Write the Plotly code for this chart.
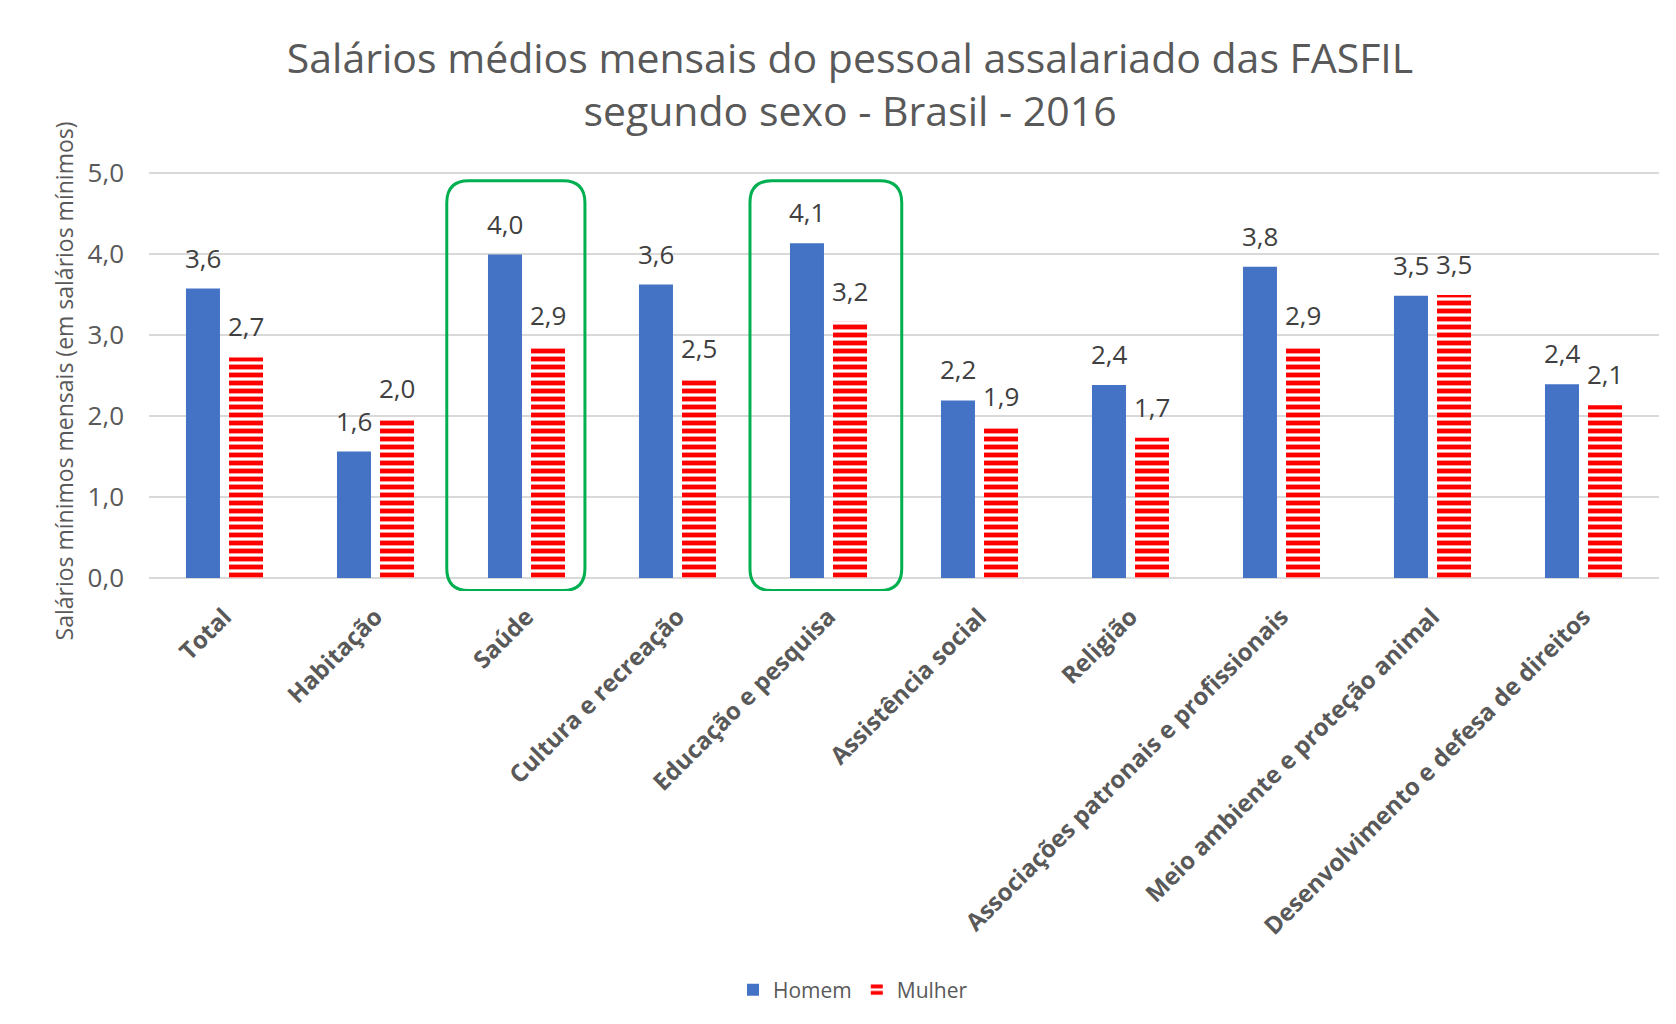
import plotly.graph_objects as go

# ---------------- data ----------------
categorias = [
    "Total", "Habitação", "Saúde", "Cultura e recreação", "Educação e pesquisa",
    "Assistência social", "Religião", "Associações patronais e profissionais",
    "Meio ambiente e proteção animal", "Desenvolvimento e defesa de direitos",
]
homem = [3.57, 1.56, 3.99, 3.62, 4.13, 2.19, 2.38, 3.84, 3.48, 2.39]
mulher = [2.72, 1.96, 2.86, 2.46, 3.16, 1.86, 1.73, 2.86, 3.49, 2.13]
y_ticks = [0, 1, 2, 3, 4, 5]
y_ticklabels = ["0,0", "1,0", "2,0", "3,0", "4,0", "5,0"]
destaques = ["Saúde", "Educação e pesquisa"]

titulo = "Salários médios mensais do pessoal assalariado das FASFIL<br>segundo sexo - Brasil - 2016"
titulo_y = "Salários mínimos mensais (em salários mínimos)"

# ---------------- styles ----------------
AZUL = "#4472C4"
VERMELHO = "#FF0000"
VERDE = "#00B050"
CINZA_TXT = "#595959"
CINZA_LBL = "#404040"
GRADE = "#D9D9D9"
FONTE = "Open Sans"

W, H = 1668, 1016          # page body has an 8px margin
L, R, T, B = 141, 17, 163, 433
Y_RANGE = [-0.16, 5.02]
pw, ph = W - L - R, H - T - B
BAR_OFFSET = 21.5          # px from category centre to each bar centre

fig = go.Figure()

fig.add_trace(go.Bar(
    x=categorias, y=homem, name="Homem",
    marker=dict(color=AZUL, line=dict(width=0)),
))
fig.add_trace(go.Bar(
    x=categorias, y=mulher, name="Mulher",
    marker=dict(
        color=VERMELHO, line=dict(width=0),
        pattern=dict(shape="-", fillmode="replace", fgcolor=VERMELHO,
                     bgcolor="white", size=8, solidity=0.6),
    ),
))

# value labels above bars
for serie, sh in ((homem, -BAR_OFFSET), (mulher, BAR_OFFSET)):
    for cat, v in zip(categorias, serie):
        fig.add_annotation(
            x=cat, y=v, xref="x", yref="y", text=f"{v:.1f}".replace(".", ","),
            showarrow=False, xanchor="center", yanchor="bottom",
            xshift=sh, yshift=11,
            font=dict(family=FONTE, size=26, color=CINZA_LBL),
        )

# rounded highlight boxes (data coordinates)
px_x = pw / len(categorias)
px_y = ph / (Y_RANGE[1] - Y_RANGE[0])
rad = 22
rx, ry = rad / px_x, rad / px_y
pads = {"Saúde": (-0.528, 0.387), "Educação e pesquisa": (-0.52, 0.485)}
for cat in destaques:
    i = categorias.index(cat)
    x0, x1 = i + pads[cat][0], i + pads[cat][1]
    y0, y1 = -0.155, 4.9
    path = (f"M {x0+rx},{y0} L {x1-rx},{y0} Q {x1},{y0} {x1},{y0+ry} "
            f"L {x1},{y1-ry} Q {x1},{y1} {x1-rx},{y1} L {x0+rx},{y1} "
            f"Q {x0},{y1} {x0},{y1-ry} L {x0},{y0+ry} Q {x0},{y0} {x0+rx},{y0} Z")
    fig.add_shape(type="path", path=path, xref="x", yref="y",
                  line=dict(color=VERDE, width=3), fillcolor="rgba(0,0,0,0)", layer="above")

fig.update_layout(
    width=W, height=H,
    margin=dict(l=L, r=R, t=T, b=B, autoexpand=False),
    paper_bgcolor="white", plot_bgcolor="white",
    separators=",.",
    barmode="group", bargap=0.43, bargroupgap=0.21,
    title=dict(text=titulo, x=842 / W, xanchor="center", xref="container",
               y=1 - 65 / H, yanchor="middle", yref="container",
               font=dict(family=FONTE, size=41, color=CINZA_TXT)),
    font=dict(family=FONTE, color=CINZA_TXT),
    legend=dict(orientation="h", x=(845 - L) / pw, xanchor="center",
                y=-(982 - (H - B)) / ph, yanchor="middle",
                font=dict(family=FONTE, size=21, color=CINZA_TXT),
                traceorder="normal", itemwidth=30),
    showlegend=True,
)

fig.update_xaxes(
    type="category", tickangle=-45,
    tickfont=dict(family=FONTE, size=24, color=CINZA_TXT, weight="bold"),
    showgrid=False, showline=False, ticks="", ticklabelstandoff=6,
)
fig.update_yaxes(
    range=Y_RANGE, tickvals=y_ticks, ticktext=y_ticklabels,
    showgrid=True, gridcolor=GRADE, gridwidth=1.5,
    zeroline=True, zerolinecolor=GRADE, zerolinewidth=1.5,
    showline=False, ticks="", ticklabelstandoff=24,
    tickfont=dict(family=FONTE, size=26, color=CINZA_TXT),
    title=dict(text=titulo_y, font=dict(family=FONTE, size=23, color=CINZA_TXT), standoff=7),
)

fig.write_html("out.html")
